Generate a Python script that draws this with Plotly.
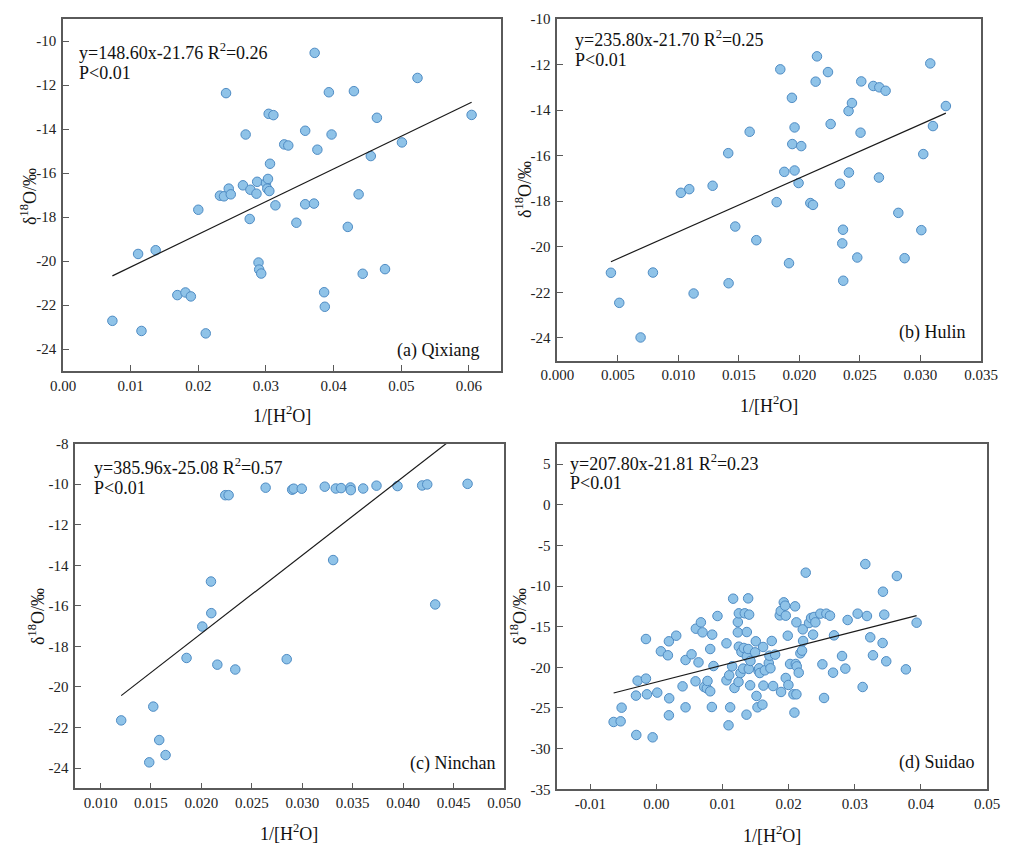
import plotly.graph_objects as go

W, H = 1012, 860

# ---------------- data ----------------
qixiang_x = [0.0073, 0.0111, 0.0137, 0.0116, 0.0169, 0.0181, 0.0189, 0.0200, 0.0211, 0.0232,
             0.0238, 0.0241, 0.0245, 0.0248, 0.0266, 0.0270, 0.0277, 0.0276, 0.0286, 0.0287,
             0.0289, 0.0290, 0.0293, 0.0300, 0.0302, 0.0303, 0.0305, 0.0304, 0.0311, 0.0306,
             0.0314, 0.0327, 0.0333, 0.0345, 0.0358, 0.0358, 0.0371, 0.0372, 0.0376, 0.0386,
             0.0387, 0.0393, 0.0397, 0.0421, 0.0430, 0.0437, 0.0443, 0.0464, 0.0455, 0.0476,
             0.0501, 0.0524, 0.0604]
qixiang_y = [-22.72, -19.68, -19.51, -23.18, -21.55, -21.43, -21.61, -17.67, -23.29, -17.03,
             -17.06, -12.37, -16.71, -16.97, -16.56, -14.25, -16.76, -18.09, -16.94, -16.40,
             -20.07, -20.39, -20.57, -16.46, -16.71, -16.27, -16.82, -13.31, -13.37, -15.58,
             -17.47, -14.70, -14.75, -18.26, -14.08, -17.42, -17.39, -10.54, -14.94, -21.42,
             -22.08, -12.33, -14.25, -18.45, -12.28, -16.97, -20.58, -13.49, -15.23, -20.37,
             -14.61, -11.68, -13.36]

hulin_x = [0.00443, 0.00512, 0.00688, 0.00790, 0.01021, 0.01090, 0.01126, 0.01283, 0.01412, 0.01415,
           0.01470, 0.01589, 0.01644, 0.01812, 0.01842, 0.01875, 0.01914, 0.01938, 0.01941, 0.01960,
           0.01960, 0.01993, 0.02015, 0.02090, 0.02112, 0.02134, 0.02145, 0.02236, 0.02258, 0.02335,
           0.02354, 0.02360, 0.02362, 0.02406, 0.02409, 0.02434, 0.02478, 0.02505, 0.02511, 0.02610,
           0.02660, 0.02657, 0.02712, 0.02817, 0.02869, 0.03007, 0.03023, 0.03081, 0.03103, 0.03210]
hulin_y = [-21.14, -22.46, -23.98, -21.13, -17.63, -17.47, -22.05, -17.32, -15.89, -21.60,
           -19.11, -14.95, -19.71, -18.04, -12.21, -16.71, -20.72, -13.46, -15.49, -14.76,
           -16.65, -17.20, -15.58, -18.08, -18.16, -12.75, -11.64, -12.33, -14.61, -17.23,
           -19.85, -19.25, -21.49, -14.04, -16.74, -13.69, -20.47, -14.99, -12.74, -12.94,
           -13.00, -16.96, -13.15, -18.51, -20.50, -19.27, -15.93, -11.95, -14.70, -13.82]

ninchan_x = [0.01205, 0.01483, 0.01523, 0.01582, 0.01645, 0.01853, 0.02009, 0.02095, 0.02098, 0.02158,
             0.02237, 0.02270, 0.02336, 0.02637, 0.02846, 0.02900, 0.02915, 0.02995, 0.03223, 0.03306,
             0.03332, 0.03385, 0.03478, 0.03481, 0.03604, 0.03736, 0.03944, 0.04189, 0.04239, 0.04318,
             0.04639]
ninchan_y = [-21.65, -23.72, -20.97, -22.62, -23.36, -18.57, -17.02, -14.80, -16.36, -18.90,
             -10.54, -10.54, -19.14, -10.17, -18.63, -10.27, -10.22, -10.22, -10.12, -13.74,
             -10.21, -10.19, -10.16, -10.29, -10.21, -10.07, -10.09, -10.06, -10.01, -15.93,
             -9.98]

suidao_x = [-0.00648, -0.00542, -0.00527, -0.00305, -0.00310, -0.00285, -0.00159, -0.00159, -0.00144, -0.00058,
            0.00012, 0.00067, 0.00173, 0.00188, 0.00193, 0.00188, 0.00299, 0.00395, 0.00440, 0.00440,
            0.00531, 0.00591, 0.00596, 0.00636, 0.00672, 0.00697, 0.00722, 0.00762, 0.00772, 0.00813,
            0.00813, 0.00843, 0.00838, 0.00863, 0.00923, 0.01059, 0.01059, 0.01090, 0.01100, 0.01115,
            0.01145, 0.01160, 0.01180, 0.01231, 0.01231, 0.01246, 0.01241, 0.01246, 0.01271, 0.01286,
            0.01311, 0.01321, 0.01336, 0.01362, 0.01367, 0.01367, 0.01387, 0.01387, 0.01402, 0.01397,
            0.01417, 0.01422, 0.01492, 0.01503, 0.01513, 0.01528, 0.01543, 0.01553, 0.01563, 0.01603,
            0.01613, 0.01618, 0.01639, 0.01699, 0.01709, 0.01724, 0.01744, 0.01764, 0.01795, 0.01865,
            0.01880, 0.01885, 0.01926, 0.01946, 0.01956, 0.01956, 0.01986, 0.01996, 0.02021, 0.02072,
            0.02087, 0.02097, 0.02107, 0.02117, 0.02117, 0.02122, 0.02152, 0.02177, 0.02202, 0.02213,
            0.02218, 0.02258, 0.02308, 0.02339, 0.02369, 0.02384, 0.02404, 0.02479, 0.02510, 0.02535,
            0.02570, 0.02625, 0.02671, 0.02686, 0.02807, 0.02857, 0.02892, 0.03043, 0.03119, 0.03159,
            0.03184, 0.03234, 0.03275, 0.03421, 0.03426, 0.03446, 0.03476, 0.03637, 0.03773, 0.03935]
suidao_y = [-26.72, -26.64, -24.96, -28.32, -23.48, -21.64, -16.52, -21.39, -23.32, -28.61,
            -23.11, -18.03, -18.52, -16.80, -23.81, -25.90, -16.11, -22.34, -19.10, -24.92,
            -18.40, -21.72, -15.25, -19.39, -14.47, -15.70, -22.42, -22.58, -21.68, -22.95,
            -17.75, -15.98, -24.88, -19.84, -13.69, -17.05, -21.60, -27.13, -20.98, -24.92,
            -19.88, -11.56, -22.54, -14.43, -15.70, -13.36, -21.80, -17.46, -20.70, -18.11,
            -20.16, -17.62, -13.36, -25.82, -15.66, -18.65, -11.52, -17.75, -13.52, -20.20,
            -22.21, -19.22, -18.16, -16.80, -23.52, -24.92, -20.41, -20.12, -20.70, -24.59,
            -17.50, -22.25, -20.37, -19.47, -18.57, -20.12, -16.76, -22.30, -18.44, -13.61,
            -13.07, -23.03, -12.01, -12.42, -13.65, -21.31, -16.11, -22.17, -19.59, -23.32,
            -25.57, -12.50, -19.59, -14.47, -23.32, -19.88, -20.66, -18.28, -17.95, -15.33,
            -16.76, -8.36, -14.55, -13.93, -15.98, -13.81, -14.47, -13.40, -19.63, -23.77,
            -13.40, -13.65, -20.66, -16.07, -18.61, -20.16, -14.18, -13.40, -22.42, -7.30,
            -13.69, -16.31, -18.52, -17.01, -10.70, -13.52, -19.26, -8.77, -20.25, -14.51]

# regression coefficients (slope, intercept, R2) as printed
fits = {
    "a": (148.60, -21.76, 0.26),
    "b": (235.80, -21.70, 0.25),
    "c": (385.96, -25.08, 0.57),
    "d": (207.80, -21.81, 0.23),
}
site_labels = ["(a) Qixiang", "(b) Hulin", "(c) Ninchan", "(d) Suidao"]

# tick lists
xticks_a = [0.00, 0.01, 0.02, 0.03, 0.04, 0.05, 0.06]
yticks_a = [-24, -22, -20, -18, -16, -14, -12, -10]
xticks_b = [0.000, 0.005, 0.010, 0.015, 0.020, 0.025, 0.030, 0.035]
yticks_b = [-24, -22, -20, -18, -16, -14, -12, -10]
xticks_c = [0.010, 0.015, 0.020, 0.025, 0.030, 0.035, 0.040, 0.045, 0.050]
yticks_c = [-24, -22, -20, -18, -16, -14, -12, -10, -8]
xticks_d = [-0.01, 0.00, 0.01, 0.02, 0.03, 0.04, 0.05]
yticks_d = [-35, -30, -25, -20, -15, -10, -5, 0, 5]

# ---------------- layout geometry (pixels) ----------------
FONT = "Liberation Serif, Times New Roman, serif"
panels = [
    dict(key="a", xs=qixiang_x, ys=qixiang_y, px=(63, 500.7), py=(19, 371), xr=[0, 0.0647], yr=[-25, -9],
         xt=xticks_a, xf="{:.2f}", yt=yticks_a,
         stat=(77, 51, 73), lab=(481, 350), xtitle=(282, 414), ytitle=(28, 197)),
    dict(key="b", xs=hulin_x, ys=hulin_y, px=(557.3, 981), py=(19, 360.7), xr=[0, 0.035], yr=[-25, -10],
         xt=xticks_b, xf="{:.3f}", yt=yticks_b,
         stat=(573, 38, 60), lab=(968, 332), xtitle=(769, 404), ytitle=(524, 190)),
    dict(key="c", xs=ninchan_x, ys=ninchan_y, px=(75.3, 504), py=(443.7, 788.3), xr=[0.0075, 0.050], yr=[-25, -8],
         xt=xticks_c, xf="{:.3f}", yt=yticks_c,
         stat=(92, 466, 488), lab=(497, 763), xtitle=(289, 832), ytitle=(36, 617)),
    dict(key="d", xs=suidao_x, ys=suidao_y, px=(557.3, 987), py=(443.7, 789.3), xr=[-0.015, 0.050], yr=[-35, 7.5],
         xt=xticks_d, xf="{:.2f}", yt=yticks_d,
         stat=(568, 462, 483), lab=(977, 762), xtitle=(772, 834), ytitle=(518, 617)),
]

def fx(p):
    return p / W

def fy(p):
    return 1 - p / H

fig = go.Figure()
annotations = []
AX = dict(showline=True, linecolor="#5a5a5a", linewidth=1.5, mirror=True,
          ticks="inside", ticklen=6, tickwidth=1.2, tickcolor="#5a5a5a",
          showgrid=False, zeroline=False, automargin=False,
          tickfont=dict(family=FONT, size=15, color="#222"))

for i, p in enumerate(panels):
    n = "" if i == 0 else str(i + 1)
    xa, ya = "x" + n, "y" + n
    slope, intercept, r2 = fits[p["key"]]
    fig.add_trace(go.Scatter(
        x=p["xs"], y=p["ys"], mode="markers", xaxis=xa, yaxis=ya, showlegend=False,
        marker=dict(size=9.5, color="#8fc3e8", line=dict(color="#4f8cc4", width=1)),
        cliponaxis=False))
    x0, x1 = min(p["xs"]), max(p["xs"])
    fig.add_trace(go.Scatter(
        x=[x0, x1], y=[slope * x0 + intercept, slope * x1 + intercept],
        mode="lines", xaxis=xa, yaxis=ya, showlegend=False,
        line=dict(color="#1a1a1a", width=1.2)))
    xkey = "xaxis" + n
    ykey = "yaxis" + n
    fig.layout[xkey] = dict(AX, domain=[fx(p["px"][0]), fx(p["px"][1])], range=p["xr"],
                            anchor=ya, tickvals=p["xt"],
                            ticktext=[p["xf"].format(v) for v in p["xt"]])
    fig.layout[ykey] = dict(AX, domain=[fy(p["py"][1]), fy(p["py"][0])], range=p["yr"],
                            anchor=xa, tickvals=p["yt"],
                            ticktext=[str(v) for v in p["yt"]], ticklabelstandoff=2)
    sx, sy1, sy2 = p["stat"]
    tf = dict(family=FONT, size=18, color="#111")
    annotations.append(dict(x=fx(sx), y=fy(sy1), xref="paper", yref="paper", xanchor="left",
                            yanchor="middle", showarrow=False, font=tf,
                            text="y={:.2f}x{:.2f} R<sup>2</sup>={:.2f}".format(slope, intercept, r2)))
    annotations.append(dict(x=fx(sx), y=fy(sy2), xref="paper", yref="paper", xanchor="left",
                            yanchor="middle", showarrow=False, font=tf, text="P&lt;0.01"))
    lx, ly = p["lab"]
    annotations.append(dict(x=fx(lx), y=fy(ly), xref="paper", yref="paper", xanchor="right",
                            yanchor="middle", showarrow=False, font=tf, text=site_labels[i]))
    tx, ty = p["xtitle"]
    annotations.append(dict(x=fx(tx), y=fy(ty), xref="paper", yref="paper", xanchor="center",
                            yanchor="middle", showarrow=False, font=tf,
                            text="1/[H<sup>2</sup>O]"))
    vx, vy = p["ytitle"]
    annotations.append(dict(x=fx(vx), y=fy(vy), xref="paper", yref="paper", xanchor="center",
                            yanchor="middle", showarrow=False, font=tf, textangle=-90,
                            text="δ<sup>18</sup>O/‰"))

fig.update_layout(width=W, height=H, margin=dict(l=0, r=0, t=0, b=0, autoexpand=False),
                  paper_bgcolor="white", plot_bgcolor="white",
                  annotations=annotations, font=dict(family=FONT))
fig.write_html("out.html", config={"displayModeBar": False},
               post_script="document.body.style.margin='0px';document.body.style.overflow='hidden';")
